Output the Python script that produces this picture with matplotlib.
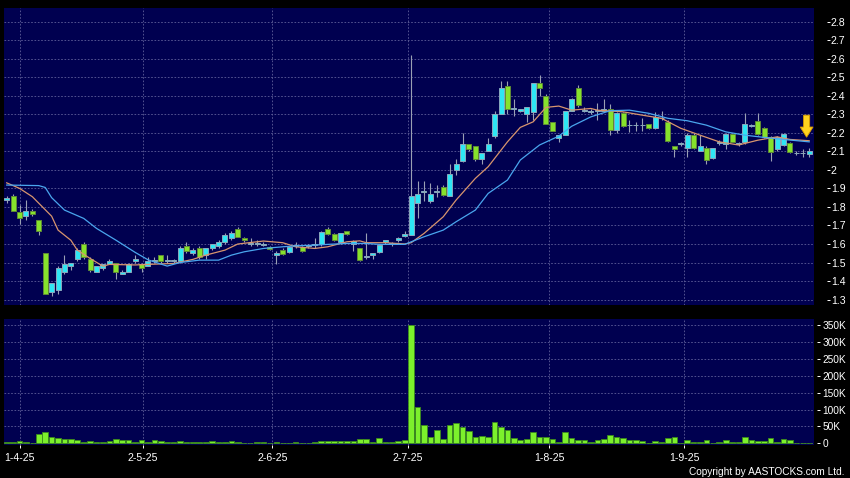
import matplotlib
matplotlib.use('Agg')
import matplotlib.pyplot as plt
from matplotlib.patches import FancyArrow
import numpy as np

plt.rcParams['font.family'] = ['Liberation Sans', 'DejaVu Sans']

# 日K数据：开、高、低、收
opens = [1.84, 1.86, 1.77, 1.75, 1.78, 1.73, 1.55, 1.34, 1.35, 1.45,
         1.48, 1.52, 1.60, 1.52, 1.45, 1.47, 1.49, 1.50, 1.44, 1.45,
         1.51, 1.49, 1.48, 1.51, 1.54, 1.51, 1.51, 1.51, 1.59, 1.55,
         1.58, 1.54, 1.58, 1.59, 1.61, 1.63, 1.68, 1.63, 1.60, 1.60,
         1.595, 1.585, 1.54, 1.57, 1.555, 1.59, 1.585, 1.59, 1.595, 1.60,
         1.68, 1.655, 1.61, 1.67, 1.60, 1.58, 1.53, 1.54, 1.555, 1.61,
         1.60, 1.62, 1.645, 1.65, 1.82, 1.88, 1.83, 1.88, 1.91, 1.86,
         2.00, 2.05, 2.14, 2.13, 2.06, 2.10, 2.18, 2.30, 2.45, 2.33,
         2.32, 2.30, 2.31, 2.47, 2.40, 2.26, 2.17, 2.19, 2.32, 2.44,
         2.32, 2.31, 2.32, 2.315, 2.33, 2.215, 2.305, 2.24, 2.24, 2.24,
         2.247, 2.224, 2.278, 2.26, 2.128, 2.14, 2.12, 2.19, 2.103, 2.12,
         2.062, 2.146, 2.14, 2.193, 2.14, 2.151, 2.238, 2.263, 2.224, 2.175,
         2.11, 2.134, 2.143, 2.089, 2.089, 2.085]
highs = [1.86, 1.87, 1.81, 1.84, 1.79, 1.73, 1.55, 1.39, 1.48, 1.54,
         1.50, 1.58, 1.61, 1.53, 1.48, 1.49, 1.52, 1.50, 1.46, 1.50,
         1.54, 1.50, 1.53, 1.53, 1.54, 1.54, 1.52, 1.59, 1.61, 1.58,
         1.59, 1.58, 1.60, 1.62, 1.66, 1.67, 1.69, 1.64, 1.63, 1.62,
         1.61, 1.59, 1.56, 1.58, 1.59, 1.61, 1.59, 1.60, 1.63, 1.67,
         1.69, 1.66, 1.66, 1.67, 1.62, 1.58, 1.66, 1.55, 1.60, 1.62,
         1.61, 1.64, 1.67, 2.62, 1.94, 1.94, 1.93, 1.92, 1.92, 2.03,
         2.06, 2.20, 2.14, 2.13, 2.09, 2.17, 2.32, 2.48, 2.48, 2.38,
         2.33, 2.34, 2.47, 2.51, 2.41, 2.26, 2.19, 2.32, 2.39, 2.46,
         2.34, 2.33, 2.36, 2.38, 2.355, 2.31, 2.31, 2.27, 2.26, 2.28,
         2.25, 2.31, 2.32, 2.27, 2.13, 2.15, 2.20, 2.20, 2.19, 2.13,
         2.12, 2.16, 2.20, 2.20, 2.15, 2.305, 2.245, 2.305, 2.23, 2.18,
         2.18, 2.20, 2.15, 2.10, 2.11, 2.12]
lows = [1.82, 1.78, 1.71, 1.73, 1.75, 1.65, 1.33, 1.32, 1.33, 1.44,
        1.46, 1.51, 1.52, 1.45, 1.45, 1.46, 1.49, 1.41, 1.44, 1.45,
        1.50, 1.45, 1.48, 1.50, 1.50, 1.50, 1.50, 1.50, 1.55, 1.54,
        1.52, 1.52, 1.57, 1.58, 1.60, 1.62, 1.64, 1.61, 1.59, 1.59,
        1.59, 1.57, 1.49, 1.54, 1.55, 1.58, 1.555, 1.58, 1.58, 1.59,
        1.65, 1.615, 1.60, 1.65, 1.56, 1.51, 1.52, 1.52, 1.55, 1.60,
        1.59, 1.61, 1.64, 1.65, 1.74, 1.83, 1.82, 1.855, 1.86, 1.86,
        1.97, 2.04, 2.10, 2.05, 2.03, 2.10, 2.17, 2.30, 2.30, 2.29,
        2.31, 2.26, 2.27, 2.40, 2.25, 2.21, 2.15, 2.19, 2.32, 2.34,
        2.31, 2.30, 2.27, 2.31, 2.19, 2.20, 2.23, 2.205, 2.21, 2.21,
        2.22, 2.22, 2.267, 2.15, 2.07, 2.13, 2.07, 2.11, 2.10, 2.03,
        2.06, 2.135, 2.11, 2.15, 2.13, 2.14, 2.23, 2.19, 2.17, 2.05,
        2.10, 2.13, 2.09, 2.08, 2.07, 2.07]
closes = [1.85, 1.78, 1.74, 1.78, 1.76, 1.67, 1.33, 1.39, 1.47, 1.49,
          1.50, 1.57, 1.53, 1.46, 1.48, 1.49, 1.51, 1.45, 1.45, 1.49,
          1.52, 1.47, 1.51, 1.51, 1.51, 1.51, 1.51, 1.58, 1.56, 1.57,
          1.53, 1.58, 1.60, 1.61, 1.65, 1.66, 1.64, 1.62, 1.60, 1.60,
          1.595, 1.575, 1.55, 1.545, 1.585, 1.59, 1.56, 1.59, 1.595, 1.665,
          1.655, 1.62, 1.66, 1.655, 1.615, 1.515, 1.535, 1.55, 1.595, 1.62,
          1.60, 1.63, 1.655, 1.86, 1.87, 1.88, 1.87, 1.88, 1.865, 1.98,
          2.03, 2.14, 2.11, 2.06, 2.09, 2.14, 2.30, 2.44, 2.33, 2.33,
          2.33, 2.34, 2.47, 2.44, 2.25, 2.21, 2.19, 2.32, 2.38, 2.35,
          2.32, 2.32, 2.32, 2.33, 2.215, 2.305, 2.236, 2.24, 2.24, 2.24,
          2.224, 2.283, 2.278, 2.155, 2.11, 2.14, 2.19, 2.12, 2.128, 2.053,
          2.116, 2.146, 2.193, 2.151, 2.14, 2.247, 2.238, 2.193, 2.175, 2.097,
          2.175, 2.193, 2.094, 2.089, 2.089, 2.103]

# 成交量（千股）
volumes = [3, 3, 8, 5, 2, 27, 34, 19, 16, 12,
           14, 10, 4, 8, 4, 4, 7, 12, 9, 9,
           4, 10, 3, 10, 8, 3, 3, 7, 3, 3,
           3, 3, 8, 5, 5, 8, 3, 1, 1, 3,
           3, 2, 4, 1, 2, 4, 2, 1, 3, 6,
           6, 6, 6, 6, 6, 13, 13, 3, 15, 5,
           4, 8, 10, 350, 106, 55, 20, 38, 12, 53,
           60, 48, 35, 18, 22, 19, 62, 47, 40, 15,
           9, 12, 32, 19, 19, 13, 5, 32, 15, 10,
           9, 4, 9, 14, 25, 18, 17, 9, 11, 6,
           2, 8, 5, 15, 19, 2, 10, 4, 4, 11,
           2, 4, 11, 4, 4, 19, 10, 7, 7, 16,
           5, 14, 9, 2, 2, 2]

# 均线（从图上读取的采样点）
ma10_idx = [0, 2, 4, 5, 7, 8, 10, 11, 13, 15, 16, 20, 22, 26, 29, 31, 34, 36,
            40, 43, 45, 48, 50, 53, 55, 56, 59, 62, 63, 65, 68, 70, 73, 75, 78,
            80, 82, 84, 86, 88, 91, 92, 96, 99, 102, 105, 108, 111, 114, 117,
            120, 122, 125]
ma10 = [1.93, 1.90, 1.855, 1.82, 1.75, 1.675, 1.62, 1.567, 1.522, 1.48, 1.49,
        1.487, 1.49, 1.495, 1.517, 1.54, 1.567, 1.60, 1.616, 1.607, 1.585,
        1.576, 1.585, 1.612, 1.617, 1.607, 1.607, 1.60, 1.607, 1.657, 1.747,
        1.837, 1.954, 2.017, 2.151, 2.229, 2.259, 2.337, 2.344, 2.322, 2.331,
        2.322, 2.313, 2.295, 2.278, 2.224, 2.187, 2.151, 2.134, 2.16, 2.178,
        2.164, 2.157]
ma20_idx = [0, 5, 6, 7, 9, 12, 14, 17, 20, 22, 24, 25, 27, 30, 33, 35, 37, 40,
            43, 45, 48, 50, 53, 56, 58, 62, 65, 68, 70, 73, 75, 78, 80, 83, 86,
            88, 91, 94, 97, 100, 103, 106, 109, 112, 115, 118, 121, 125]
ma20 = [1.918, 1.915, 1.905, 1.85, 1.783, 1.738, 1.684, 1.621, 1.555, 1.515,
        1.492, 1.481, 1.50, 1.513, 1.513, 1.54, 1.558, 1.576, 1.585, 1.59,
        1.594, 1.598, 1.603, 1.603, 1.598, 1.598, 1.639, 1.675, 1.72, 1.783,
        1.873, 1.945, 2.053, 2.134, 2.182, 2.235, 2.286, 2.319, 2.322, 2.305,
        2.278, 2.265, 2.241, 2.205, 2.187, 2.175, 2.164, 2.151]

price_ticks = [1.3, 1.4, 1.5, 1.6, 1.7, 1.8, 1.9, 2.0, 2.1, 2.2, 2.3, 2.4, 2.5, 2.6, 2.7, 2.8]
price_labels = ['1.3', '1.4', '1.5', '1.6', '1.7', '1.8', '1.9', '2', '2.1', '2.2',
                '2.3', '2.4', '2.5', '2.6', '2.7', '2.8']
vol_ticks = [0, 50, 100, 150, 200, 250, 300, 350]
vol_labels = ['0', '50K', '100K', '150K', '200K', '250K', '300K', '350K']
date_labels = ['1-4-25', '2-5-25', '2-6-25', '2-7-25', '1-8-25', '1-9-25']
date_pos = [2, 21.2, 41.4, 62.5, 84.5, 105.5]

BG = '#000050'
GRID = '#5f5f9a'
FS = 7.6

o = np.array(opens)
c = np.array(closes)
x = np.arange(len(o))
up = c >= o

fig = plt.figure(figsize=(8.5, 4.78), dpi=100, facecolor='black')
ax = fig.add_axes([4 / 850, 1 - 305 / 478, 810 / 850, 297 / 478], facecolor=BG)
ax2 = fig.add_axes([4 / 850, 1 - 445 / 478, 810 / 850, 125.7 / 478], facecolor=BG, sharex=ax)

# K线
ax.vlines(x, lows, highs, color='#9aa0b4', linewidth=0.8, zorder=2)
body_bottom = np.minimum(o, c)
body_h = np.maximum(np.abs(c - o), 0.004)
face = np.where(up, '#2ee6f4', '#86e22c')
edge = np.where(up, '#8aa8bc', '#5f8a36')
ax.bar(x, body_h, bottom=body_bottom, width=0.78, color=face, edgecolor=edge,
       linewidth=0.7, zorder=3)

# 均线
ax.plot(ma10_idx, ma10, color='#d8956e', linewidth=0.9, zorder=4)
ax.plot(ma20_idx, ma20, color='#4aa6ee', linewidth=0.9, zorder=4)

# 黄色箭头
ax.add_patch(FancyArrow(124.6, 2.295, 0, -0.119, width=0.95, head_width=2.0,
                        head_length=0.055, length_includes_head=True,
                        facecolor='#ffd21e', edgecolor='#d89a00', linewidth=0.6, zorder=5))

ax.set_xlim(-0.42, 125.75)
ax.set_ylim(1.271, 2.873)
ax.set_yticks(price_ticks)
ax.set_yticklabels(price_labels)
ax.set_xticks(date_pos)

# 成交量
ax2.bar(x, volumes, width=0.88, color='#7cf02c', edgecolor='#3b8a1c', linewidth=0.6, zorder=3)
ax2.set_ylim(-5, 367)
ax2.set_yticks(vol_ticks)
ax2.set_yticklabels(vol_labels)
ax2.set_xticks(date_pos)
ax2.set_xticklabels(date_labels)

for a in (ax, ax2):
    a.grid(True, color=GRID, linestyle=(0, (2, 2)), linewidth=0.6)
    a.set_axisbelow(True)
    for s in a.spines.values():
        s.set_visible(False)
    a.yaxis.tick_right()

# 右侧刻度：价格轴离得远一些，成交量轴靠近
ax.spines['right'].set_position(('outward', 9))
ax.tick_params(axis='y', colors='white', labelsize=FS, length=2, width=0.7, pad=1.2)
ax2.spines['right'].set_position(('outward', 2))
ax2.tick_params(axis='y', colors='white', labelsize=7.3, length=2.2, width=0.7, pad=1.8)

ax.tick_params(axis='x', bottom=False, labelbottom=False)
ax2.tick_params(axis='x', colors='white', labelsize=FS, length=2.5, width=0.7, pad=3,
                direction='out')

fig.text(0.994, 0.0126, 'Copyright by AASTOCKS.com Ltd.', ha='right', va='center',
         color='white', fontsize=7.3)

fig.savefig('out.png', dpi=100, facecolor='black')
